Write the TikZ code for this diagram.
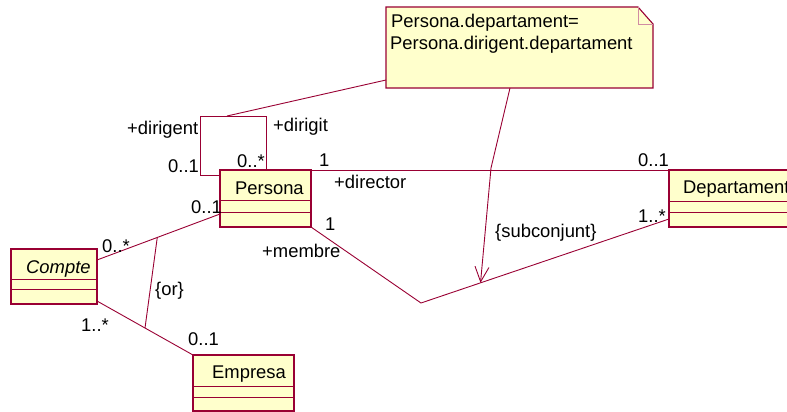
\documentclass[tikz,border=0pt]{standalone}
\usepackage{fontspec}
\setmainfont{Liberation Sans}
\usetikzlibrary{arrows.meta,calc}
\definecolor{umlline}{RGB}{153,0,51}
\definecolor{umlfill}{RGB}{255,255,204}
\begin{document}
\begin{tikzpicture}[x=1pt,y=-1pt,
  font=\fontsize{18.4}{22}\selectfont,
  classbox/.style={draw=umlline,fill=umlfill,line width=1.1pt,anchor=north west,inner sep=0pt,outer sep=0pt},
  compline/.style={draw=umlline,line width=1pt},
  shadowline/.style={draw=umlline,line width=1.6pt},
  conn/.style={draw=umlline,line width=0.9pt},
  notestyle/.style={draw=umlline,fill=umlfill,line width=1.1pt},
  foldline/.style={draw=umlline!45,line width=0.6pt},
  lbl/.style={anchor=base west,inner sep=0pt,text=black},
  ghost/.style={anchor=north west,inner sep=0pt,outer sep=0pt}
]
\useasboundingbox (0,0) rectangle (787,412);
\clip (0,0) rectangle (787,412);

% ---------- note ----------
\node[ghost,minimum width=267pt,minimum height=81pt] (note) at (386,7) {};
\path[notestyle] (note.north west) -- ($(note.north east)+(-15,0)$) -- ($(note.north east)+(0,17)$) -- (note.south east) -- (note.south west) -- cycle;
\draw[foldline] ($(note.north east)+(-15,0)$) |- ($(note.north east)+(0,17)$);
\node[lbl] (notel1) at ($(note.north west)+(5,21)$) {Persona.departament=};
\node[lbl] (notel2) at ($(note.north west)+(4,43)$) {Persona.dirigent.departament};

% ---------- classes ----------
\node[classbox,minimum width=91pt,minimum height=57pt] (persona) at (220,170) {};
\draw[compline] ($(persona.north west)+(0,30)$) -- ($(persona.north east)+(0,30)$);
\draw[compline] ($(persona.north west)+(0,42)$) -- ($(persona.north east)+(0,42)$);
\draw[shadowline] ($(persona.north east)+(0.5,1)$) |- ($(persona.south west)+(1,0.5)$);
\node[lbl] (personaname) at ($(persona.north west)+(15,24)$) {Persona};

\node[classbox,minimum width=150pt,minimum height=57pt] (departament) at (669,170) {};
\draw[compline] ($(departament.north west)+(0,31)$) -- ($(departament.north east)+(0,31)$);
\draw[compline] ($(departament.north west)+(0,42)$) -- ($(departament.north east)+(0,42)$);
\draw[shadowline] ($(departament.south west)+(1,0.5)$) -- ($(departament.south east)+(0,0.5)$);
\node[lbl] (departamentname) at ($(departament.north west)+(14,23)$) {Departament};

\node[classbox,minimum width=86pt,minimum height=55pt] (compte) at (11,249) {};
\draw[compline] ($(compte.north west)+(0,30)$) -- ($(compte.north east)+(0,30)$);
\draw[compline] ($(compte.north west)+(0,40)$) -- ($(compte.north east)+(0,40)$);
\draw[shadowline] ($(compte.north east)+(0.5,1)$) |- ($(compte.south west)+(1,0.5)$);
\node[lbl] (comptename) at ($(compte.north west)+(15,24)$) {\itshape Compte};

\node[classbox,minimum width=101pt,minimum height=56pt] (empresa) at (193,355) {};
\draw[compline] ($(empresa.north west)+(0,31)$) -- ($(empresa.north east)+(0,31)$);
\draw[compline] ($(empresa.north west)+(0,42)$) -- ($(empresa.north east)+(0,42)$);
\draw[shadowline] ($(empresa.north east)+(0.5,1)$) |- ($(empresa.south west)+(1,0.5)$);
\node[lbl] (empresaname) at ($(empresa.north west)+(19,23)$) {Empresa};

% ---------- connectors ----------
% self association dirigent / dirigit
\coordinate (loopTL) at (200,116);
\draw[conn] ($(persona.north west)+(46,0)$) |- (loopTL) |- ($(persona.north west)+(0,5)$);
% note anchor line
\draw[conn] ($(loopTL)+(27,0)$) -- ($(note.south west)+(0,-8)$);
% director
\draw[conn] (persona.north east) -- (departament.north west);
% membre
\coordinate (vmid) at (421,303);
\draw[conn] (persona.south east) -- (vmid) -- coordinate[pos=0.24] (subtip) ($(departament.south west)+(0,-8)$);
% subconjunt dependency
\coordinate (bend) at (491,168);
\draw[conn,-{Straight Barb[length=15pt,width=14pt,line width=0.9pt]}] ($(note.south west)+(124,0)$) -- (bend) -- (subtip);
% compte - persona / compte - empresa
\draw[conn] ($(compte.north east)+(0,11)$) -- coordinate[pos=0.49] (or1) ($(persona.north west)+(0,44)$);
\draw[conn] ($(compte.south east)+(0,-3)$) -- coordinate[pos=0.5] (or2) (empresa.north west);
\draw[conn] (or1) -- (or2);

% ---------- labels ----------
\node[lbl] (l1) at (127,134) {+dirigent};
\node[lbl] (l2) at (273,131) {+dirigit};
\node[lbl] (l3) at (168,172) {0..1};
\node[lbl] (l4) at (237,167) {0..*};
\node[lbl] (l5) at (319,166) {1};
\node[lbl] (l6) at (334,188) {+director};
\node[lbl] (l7) at (638,166) {0..1};
\node[lbl] (l8) at (325,230) {1};
\node[lbl] (l9) at (262,257) {+membre};
\node[lbl] (l10) at (638,222) {1..*};
\node[lbl] (l11) at (495,237) {\{subconjunt\}};
\node[lbl] (l12) at (102,252) {0..*};
\node[lbl] (l13) at (191,213) {0..1};
\node[lbl] (l14) at (155,295) {\{or\}};
\node[lbl] (l15) at (81,331) {1..*};
\node[lbl] (l16) at (188,345) {0..1};
\end{tikzpicture}
\end{document}
